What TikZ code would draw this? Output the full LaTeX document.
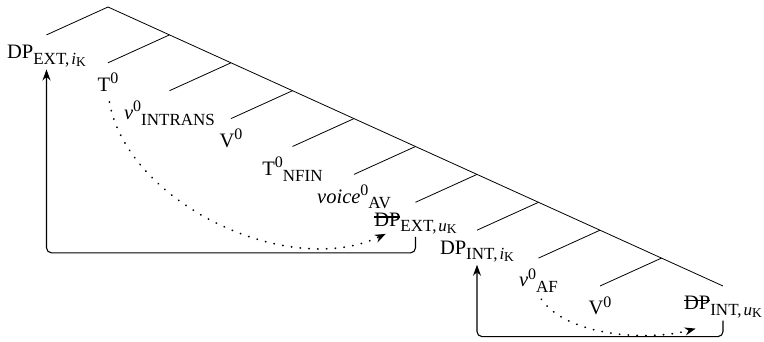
\documentclass[tikz,border=0pt]{standalone}
\usepackage{fontspec}
\setmainfont{Liberation Serif}
\usetikzlibrary{arrows.meta}
\newcommand{\sps}[1]{\raisebox{.38em}{\fontsize{16}{16}\selectfont #1}}
\newcommand{\sbs}[1]{\raisebox{-.28em}{\fontsize{17}{17}\selectfont #1}}
\newcommand{\ssb}[1]{\raisebox{-.12em}{\fontsize{13.5}{13.5}\selectfont #1}}
\newsavebox{\strkbox}
\newcommand{\strk}[1]{\sbox{\strkbox}{#1}\rlap{\rule[.42em]{\wd\strkbox}{.06em}}\usebox{\strkbox}}

\begin{document}
\begin{tikzpicture}[x=1pt,y=-1pt,line width=0.8pt,
  leaf/.style={anchor=north,inner sep=2pt,yshift=-8pt,font=\fontsize{20.5}{24}\selectfont},
  move/.style={-{Stealth[length=11pt,width=8pt]},line width=1.1pt,rounded corners=5pt},
  agree/.style={-{Stealth[length=11pt,width=8pt]},line width=1.8pt,line cap=round,dash pattern=on 0.3pt off 8.5pt}]
\useasboundingbox (0,0) rectangle (764,342);

% spine
\draw (108,7) coordinate (n0) -- (723,286) coordinate (n10);
% left branches
\foreach \i in {0,...,9}
  \draw (108+61.5*\i,7+27.9*\i) -- ++(-61.5,27.9) coordinate (l\i);

% leaves
\node[leaf] (dpx) at (l0) {DP\sbs{EXT,\kern2pt\textit{i}\ssb{K}}};
\node[leaf] (t) at (l1) {T\sps{0}};
\node[leaf] (vi) at (l2) {\textit{v}\sps{0}\sbs{INTRANS}};
\node[leaf] (v1) at (l3) {V\sps{0}};
\node[leaf] (tn) at (l4) {T\sps{0}\sbs{NFIN}};
\node[leaf] (voi) at (l5) {\textit{voice}\sps{0}\sbs{AV}};
\node[leaf] (dpe) at (l6) {\strk{DP}\sbs{EXT,\kern2pt\textit{u}\ssb{K}}};
\node[leaf] (dpi) at (l7) {DP\sbs{INT,\kern2pt\textit{i}\ssb{K}}};
\node[leaf] (vaf) at (l8) {\textit{v}\sps{0}\sbs{AF}};
\node[leaf] (v2) at (l9) {V\sps{0}};
\node[leaf] (dpu) at (n10) {\strk{DP}\sbs{INT,\kern2pt\textit{u}\ssb{K}}};

% movement
\draw[move] (dpe.south) -- ++(0,16) -| (dpx.south);
\draw[move] (dpu.south) -- ++(0,16) -| (dpi.south);

% agreement
\draw[agree,shorten <=8pt] (t.south) to[out=-80,in=205,looseness=0.9] ([xshift=14pt,yshift=3pt]dpe.south west);
\draw[agree,shorten <=5pt] (vaf.south) to[out=-55,in=195,looseness=0.8] ([xshift=14pt,yshift=-8pt]dpu.south west);

\end{tikzpicture}
\end{document}
